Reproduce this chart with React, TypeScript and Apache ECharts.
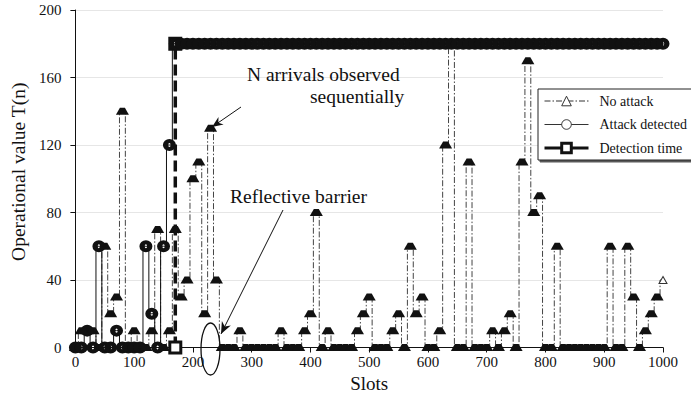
import React, { useEffect, useRef } from "react";
import * as echarts from "echarts";

// x positions of the observations (slots)
const slots: number[] = Array.from({ length: 101 }, (_, i) => i * 10);

// "No attack" operational values T(n), one per slot above
const noAttack: number[] = [
  0, 10, 10, 10, 0, 60, 20, 30, 140, 0,
  10, 0, 0, 10, 70, 0, 10, 70, 30, 40,
  100, 110, 20, 130, 40, 0, 0, 0, 10, 0,
  0, 0, 0, 0, 0, 10, 0, 0, 0, 10,
  20, 80, 0, 10, 0, 0, 0, 0, 10, 20,
  30, 0, 0, 0, 10, 20, 0, 60, 20, 30,
  0, 0, 10, 120, 180, 0, 0, 110, 0, 0,
  0, 10, 0, 10, 20, 0, 110, 170, 80, 90,
  0, 0, 60, 0, 0, 0, 0, 0, 0, 0,
  0, 60, 0, 0, 60, 30, 0, 10, 20, 30,
  40,
];

// "Attack detected" operational values T(n)
const attackDetected: number[] = [
  0, 0, 10, 0, 60, 0, 0, 10, 0, 0,
  0, 0, 60, 20, 0, 60, 120, 180, 180, 180,
  180, 180, 180, 180, 180, 180, 180, 180, 180, 180,
  180, 180, 180, 180, 180, 180, 180, 180, 180, 180,
  180, 180, 180, 180, 180, 180, 180, 180, 180, 180,
  180, 180, 180, 180, 180, 180, 180, 180, 180, 180,
  180, 180, 180, 180, 180, 180, 180, 180, 180, 180,
  180, 180, 180, 180, 180, 180, 180, 180, 180, 180,
  180, 180, 180, 180, 180, 180, 180, 180, 180, 180,
  180, 180, 180, 180, 180, 180, 180, 180, 180, 180,
  180,
];

// "Detection time" marker
const detectionSlots: number[] = [170, 170];
const detectionValues: number[] = [0, 180];

const xTicks = { min: 0, max: 1000, interval: 100 };
const yTicks = { min: 0, max: 200, interval: 40 };

const FONT = '"Liberation Serif", "Times New Roman", serif';
const INK = "#111";
const DASH_DOT = [6, 2, 1.5, 2];

// plot markers: flat-topped triangle and a thick ring with a small hole
const TRAP = "path://M4,0 L9,0 L13,7 L0,7 Z";
const RING =
  "path://M0,-6.5A6.5,6.5,0,1,1,0,6.5A6.5,6.5,0,1,1,0,-6.5ZM0,-2.2A1.2,2.2,0,1,0,0,2.2A1.2,2.2,0,1,0,0,-2.2Z";

function arrowHead(sx: number, sy: number, tx: number, ty: number, len: number, half: number) {
  const dx = tx - sx;
  const dy = ty - sy;
  const l = Math.hypot(dx, dy);
  const ux = dx / l;
  const uy = dy / l;
  const nx = -uy;
  const ny = ux;
  const bx = tx - ux * len;
  const by = ty - uy * len;
  const mx = tx - ux * len * 0.7;
  const my = ty - uy * len * 0.7;
  return [
    [tx, ty],
    [bx + nx * half, by + ny * half],
    [mx, my],
    [bx - nx * half, by - ny * half],
  ];
}

export default function App() {
  const ref = useRef<HTMLDivElement>(null);

  useEffect(() => {
    const chart = echarts.init(ref.current!, null, { renderer: "svg" });

    const a1 = { sx: 241, sy: 107, tx: 212, ty: 127 };
    const a2 = { sx: 283, sy: 210, tx: 221, ty: 334 };

    const option: any = {
      animation: false,
      backgroundColor: "#fff",
      textStyle: { fontFamily: FONT, color: INK },
      grid: { left: 69.5, right: 28, top: 10, bottom: 52.5, containLabel: false },
      xAxis: {
        type: "value",
        min: xTicks.min,
        max: xTicks.max,
        interval: xTicks.interval,
        name: "Slots",
        nameLocation: "middle",
        nameGap: 23,
        nameTextStyle: { fontFamily: FONT, fontSize: 19, color: INK },
        axisLine: { show: true, lineStyle: { color: INK, width: 1 } },
        axisTick: { show: true, length: 5, lineStyle: { color: INK } },
        axisLabel: {
          fontFamily: FONT,
          fontSize: 15,
          color: INK,
          margin: 7,
          formatter: (v: number) => String(v),
        },
        splitLine: { show: false },
      },
      yAxis: {
        type: "value",
        min: yTicks.min,
        max: yTicks.max,
        interval: yTicks.interval,
        name: "Operational value T(n)",
        nameLocation: "middle",
        nameGap: 44,
        nameRotate: 90,
        nameTextStyle: { fontFamily: FONT, fontSize: 19.5, color: INK, padding: [0, 0, 0, 14] },
        axisLine: { show: true, lineStyle: { color: INK, width: 1 } },
        axisTick: { show: true, length: 5, lineStyle: { color: INK } },
        axisLabel: {
          fontFamily: FONT,
          fontSize: 15,
          color: INK,
          margin: 14,
          formatter: (v: number) => String(v),
        },
        splitLine: { show: true, lineStyle: { color: "#e6e6e6", width: 1 } },
      },
      legend: {
        orient: "vertical",
        left: 538,
        top: 89,
        itemWidth: 44,
        itemHeight: 12,
        itemGap: 9.5,
        padding: [5, 6, 5, 5],
        backgroundColor: "#fff",
        borderColor: "#222",
        borderWidth: 1,
        borderRadius: 0,
        shadowColor: "rgba(0,0,0,0.65)",
        shadowOffsetX: 2,
        shadowOffsetY: 2,
        shadowBlur: 0,
        selectedMode: false,
        textStyle: { fontFamily: FONT, fontSize: 14, color: INK, padding: [0, 0, 0, 6] },
        data: [
          {
            name: "No attack",
            itemStyle: { color: "#fff", borderColor: "#333", borderWidth: 1 },
            lineStyle: { color: "#333", width: 1, type: DASH_DOT },
          },
          {
            name: "Attack detected",
            itemStyle: { color: "#fff", borderColor: "#333", borderWidth: 1 },
            lineStyle: { color: "#333", width: 1, type: "solid" },
          },
          {
            name: "Detection time",
            itemStyle: { color: "#fff", borderColor: INK, borderWidth: 3 },
            lineStyle: { color: INK, width: 3, type: "solid" },
          },
        ],
      },
      series: [
        {
          name: "No attack",
          type: "line",
          step: "middle",
          silent: true,
          showAllSymbol: true,
          z: 2,
          symbol: "triangle",
          symbolSize: [13, 7],
          itemStyle: { color: INK },
          lineStyle: { color: "#444", width: 1, type: DASH_DOT },
          emphasis: { disabled: true },
          data: slots.map((s, i) =>
            i === slots.length - 1
              ? {
                  value: [s, noAttack[i]],
                  symbol: "triangle",
                  symbolSize: [8, 7],
                  itemStyle: { color: "#fff", borderColor: "#333", borderWidth: 1 },
                }
              : { value: [s, noAttack[i]], symbol: TRAP }
          ),
        },
        {
          name: "Detection time",
          type: "line",
          silent: true,
          z: 3,
          symbol: "rect",
          symbolSize: 11,
          itemStyle: { color: "#fff", borderColor: INK, borderWidth: 3 },
          lineStyle: { color: INK, width: 3.5, type: [11, 5] },
          emphasis: { disabled: true },
          data: detectionSlots.map((s, i) => [s, detectionValues[i]]),
        },
        {
          name: "Attack detected",
          type: "line",
          step: "middle",
          silent: true,
          showAllSymbol: true,
          z: 4,
          symbol: "circle",
          symbolSize: [13, 12],
          itemStyle: { color: INK },
          lineStyle: { color: INK, width: 1 },
          emphasis: { disabled: true },
          data: slots.map((s, i) => ({ value: [s, attackDetected[i]], symbol: RING })),
        },
      ],
      graphic: [
        {
          type: "text",
          z: 100,
          x: 247,
          y: 74,
          style: {
            text: "N arrivals observed",
            font: `19.5px ${FONT}`,
            fill: INK,
            textAlign: "left",
            textVerticalAlign: "middle",
          },
        },
        {
          type: "text",
          z: 100,
          x: 310,
          y: 96,
          style: {
            text: "sequentially",
            font: `19.5px ${FONT}`,
            fill: INK,
            textAlign: "left",
            textVerticalAlign: "middle",
          },
        },
        {
          type: "text",
          z: 100,
          x: 230,
          y: 196,
          style: {
            text: "Reflective barrier",
            font: `19.5px ${FONT}`,
            fill: INK,
            textAlign: "left",
            textVerticalAlign: "middle",
          },
        },
        {
          type: "line",
          z: 100,
          shape: { x1: a1.sx, y1: a1.sy, x2: a1.tx, y2: a1.ty },
          style: { stroke: INK, lineWidth: 1 },
        },
        {
          type: "polygon",
          z: 100,
          shape: { points: arrowHead(a1.sx, a1.sy, a1.tx, a1.ty, 11, 4.5) },
          style: { fill: INK },
        },
        {
          type: "line",
          z: 100,
          shape: { x1: a2.sx, y1: a2.sy, x2: a2.tx, y2: a2.ty },
          style: { stroke: INK, lineWidth: 1 },
        },
        {
          type: "polygon",
          z: 100,
          shape: { points: arrowHead(a2.sx, a2.sy, a2.tx, a2.ty, 12, 5) },
          style: { fill: INK },
        },
        {
          type: "ellipse",
          z: 100,
          shape: { cx: 210.5, cy: 349, rx: 9.5, ry: 26 },
          style: { fill: "none", stroke: INK, lineWidth: 1.3 },
        },
      ],
    };

    chart.setOption(option);
    return () => chart.dispose();
  }, []);

  return (
    <div
      ref={ref}
      style={{ position: "fixed", left: 0, top: 0, width: 691, height: 400, background: "#fff" }}
    />
  );
}
